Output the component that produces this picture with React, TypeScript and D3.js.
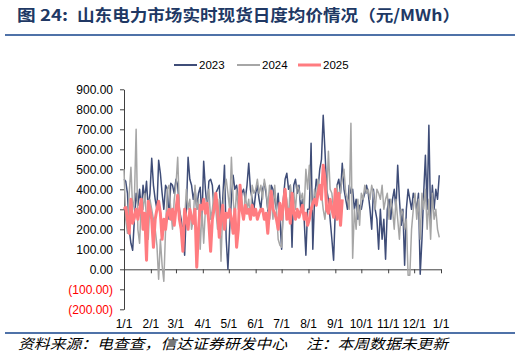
import * as d3 from "d3";
import React, { useEffect, useRef } from "react";

// daily average real-time spot price, Shandong (yuan/MWh), one value every 2 days
const price2023 = [
  450, 440, 380, 200, 130, 95, 250, 380, 320, 400, 300, 420, 350, 440, 300, 380,
  555, 420, 350, 300, 545, 480, 380, 300, 420, 400, 250, 430, 420, 380,
  450, 420, 300, 250, 180, 70, 300, 560, 450, 420, 350, 400, 300, 380, 410, 250,
  540, 400, 300, 440, 450, 420, 300, 380, 400, 420, 250, 350, 520, 150, 0,
  200, 350, 470, 400, 420, 350, 300, 380, 400, 350, 420, 530, 400, 350, 300,
  380, 420, 350, 300, 400, 430, 380, 300, 250, 420, 400, 350, 300, 380, 250,
  100, 350, 450, 480, 400, 420, 110, 420, 450, 380, 420, 300, 350, 250, 70, 300,
  300, 630, 100, 350, 450, 400, 500, 550, 770, 595, 400, 350, 250, 150, 45,
  300, 420, 450, 380, 530, 400, 350, 300, 420, 380, 400, 300, 350, 250, 320,
  300, 350, 380, 420, 380, 300, 200, 400, 300, 250, 100, 300, 150, 250, 50, 300,
  350, 250, 350, 400, 300, 520, 350, 220, 300, 20, 300, 400, 350, 300, 380,
  350, 300, 380, -25, 150, 380, 570, 300, 720, 250, 420, 300, 400, 350, 470,
];

const price2024 = [
  500, 250, 180, 380, 510, 300, 350, 700, 200, 130, 350, 300, 380, 250, 150, 350,
  300, 250, 200, 120, -50, 150, 20, -60, 200, 400, 420, 300, 200, 350,
  420, 560, 300, 200, 150, 250, 400, 300, 350, 200, 250, 420, 300, 350, 100, 300,
  130, 300, 350, 400, 250, 300, 380, 300, 200, 350, 40, 300, 400, 450, 380,
  300, 560, 350, 250, 400, 300, 420, 350, 250, 380, 300, 350, 250, 420, 380,
  400, 450, 380, 420, 350, 450, 400, 300, 420, 350, 250, 420, 300, 150, 120,
  110, 300, 400, 350, 250, 420, 350, 380, 300, 420, 400, 350, 380, 300, 500, 400,
  520, 350, 300, 400, 350, 450, 400, 380, 300, 250, 350, 590, 400, 380, 300,
  350, 420, 300, 400, 450, 500, 380, 350, 300, 730, 55, 300, 200, 350, 220,
  380, 350, 420, 380, 400, 350, 420, 380, 300, 400, 380, 350, 420, 300, 350, 380,
  250, 350, 300, 200, 350, 250, 150, 300, 280, 200, 250, -30, -30, 200, 300,
  380, 250, 350, 150, 380, 300, 400, 200, 350, 150, 380, 250, 300, 200, 160,
];

const price2025 = [
  300, 310, 250, 180, 350, 230, 260, 300, 250, 300, 350, 200, 280, 45, 340, 300,
  250, 110, 250, 300, 340, 280, 150, 250, 200, 280, 300, 250, 300, 220,
  300, 370, 250, 200, 90, 300, 250, 200, 300, 260, 230, 300, 10, 200, 320, 300,
  350, 280, 330, 230, 90, 250, 300, 380, 300, 160, 250, 320, 200, 280, 260,
  300, 250, 180, 300, 110, 200, 420, 300, 250, 320, 280, 300, 250, 320, 270,
  300, 250, 280, 300, 300, 250, 280, 180, 300, 390, 300, 280, 250, 200, 330,
  250, 330, 400, 250, 300, 230, 380, 280, 250, 300, 260, 290, 320, 250, 280, 220,
  250, 300, 330, 350, 320, 380, 420, 350, 520, 450, 300, 280, 350, 300, 260,
  400, 250, 380, 220, 350,
];

const seriesNames = ["2023", "2024", "2025"];
const seriesColors = ["#3f4d78", "#a6a6a6", "#ff7c80"];
const seriesWidths = [1.5, 1.5, 3];
const yTicks = [-200, -100, 0, 100, 200, 300, 400, 500, 600, 700, 800, 900];
const STEP_DAYS = 2;

const width = 521;
const height = 358;
const start = Date.UTC(2024, 0, 1);
const end = Date.UTC(2025, 0, 1);

const x = d3.scaleUtc([new Date(start), new Date(end)], [124, 441]);
const y = d3.scaleLinear([-200, 900], [309.3, 89.3]);
const dateAt = (i: number) => new Date(start + i * STEP_DAYS * 864e5);
const line = d3
  .line<number>()
  .x((d, i) => x(dateAt(i)))
  .y((d) => y(d));

const monthTicks = d3.utcMonth.range(new Date(start), new Date(end + 864e5));
const fmtMonth = d3.utcFormat("%-m/%-d");
const fmtNum = d3.format(".2f");

const axisFont = "'Liberation Sans', Arial, sans-serif";
const cjkFont = "'Noto Sans CJK SC', sans-serif";

const App = () => {
  const gx = useRef(null);
  const gy = useRef(null);

  useEffect(() => {
    if (gy.current) {
      const g = d3.select(gy.current);
      g.call(
        d3
          .axisLeft(y)
          .tickValues(yTicks)
          .tickSize(4)
          .tickSizeOuter(0)
          .tickPadding(7)
          .tickFormat((v: any) => (v < 0 ? `(${fmtNum(-v)})` : fmtNum(v))) as any,
      );
      g.attr("font-size", 12).attr("font-family", axisFont);
      g.select(".domain").attr("stroke", "#404040");
      g.selectAll(".tick line").attr("stroke", "#404040");
      g.selectAll(".tick text").attr("fill", (d: any) => (d < 0 ? "#ff0000" : "#000"));
    }
    if (gx.current) {
      const g = d3.select(gx.current);
      g.call(
        d3
          .axisBottom(x)
          .tickValues(monthTicks)
          .tickSize(4)
          .tickSizeOuter(0)
          .tickFormat(() => "") as any,
      );
      g.select(".domain").attr("stroke", "#404040");
      g.selectAll(".tick line").attr("stroke", "#404040");
    }
  }, []);

  const series = [price2023, price2024, price2025];
  const legendX = [174, 237, 298];

  return (
    <svg width={width} height={height} style={{ position: "absolute", left: 0, top: 0 }}>
      <rect width={width} height={height} fill="#fff" />
      <text x={17} y={21} fontFamily={cjkFont} fontWeight="bold" fontSize={16} fill="#203864"
        textLength={51} lengthAdjust="spacingAndGlyphs">
        图 24:
      </text>
      <text x={77} y={21} fontFamily={cjkFont} fontWeight="bold" fontSize={16} fill="#203864"
        textLength={383} lengthAdjust="spacingAndGlyphs">
        山东电力市场实时现货日度均价情况（元/MWh）
      </text>
      <line x1={5} x2={515} y1={35} y2={35} stroke="#4f72a8" strokeWidth={1.8} />

      {seriesNames.map((name, k) => (
        <g key={name}>
          <line x1={legendX[k]} x2={legendX[k] + 23} y1={65} y2={65}
            stroke={seriesColors[k]} strokeWidth={k === 2 ? 3 : 2} />
          <text x={legendX[k] + 25} y={69} fontFamily={axisFont} fontSize={11.5} fill="#000">
            {name}
          </text>
        </g>
      ))}

      <g ref={gy} transform="translate(124,0)" />
      <g ref={gx} transform={`translate(0,${y(0)})`} />

      {series.map((data, k) => (
        <path key={k} d={line(data) ?? undefined} fill="none" stroke={seriesColors[k]}
          strokeWidth={seriesWidths[k]} strokeLinejoin="round" />
      ))}

      {monthTicks.map((d, i) => (
        <text key={i} x={x(d)} y={328} textAnchor="middle" fontFamily={axisFont} fontSize={12} fill="#000">
          {fmtMonth(d)}
        </text>
      ))}

      <line x1={5} x2={515} y1={333} y2={333} stroke="#4f72a8" strokeWidth={1.8} />
      <text x={18} y={349} fontFamily={cjkFont} fontStyle="italic" fontSize={14} fill="#000"
        textLength={269} lengthAdjust="spacingAndGlyphs">
        资料来源：电查查，信达证券研发中心
      </text>
      <text x={306} y={349} fontFamily={cjkFont} fontStyle="italic" fontSize={14} fill="#000"
        textLength={142} lengthAdjust="spacingAndGlyphs">
        注：本周数据未更新
      </text>
    </svg>
  );
};

export default App;
